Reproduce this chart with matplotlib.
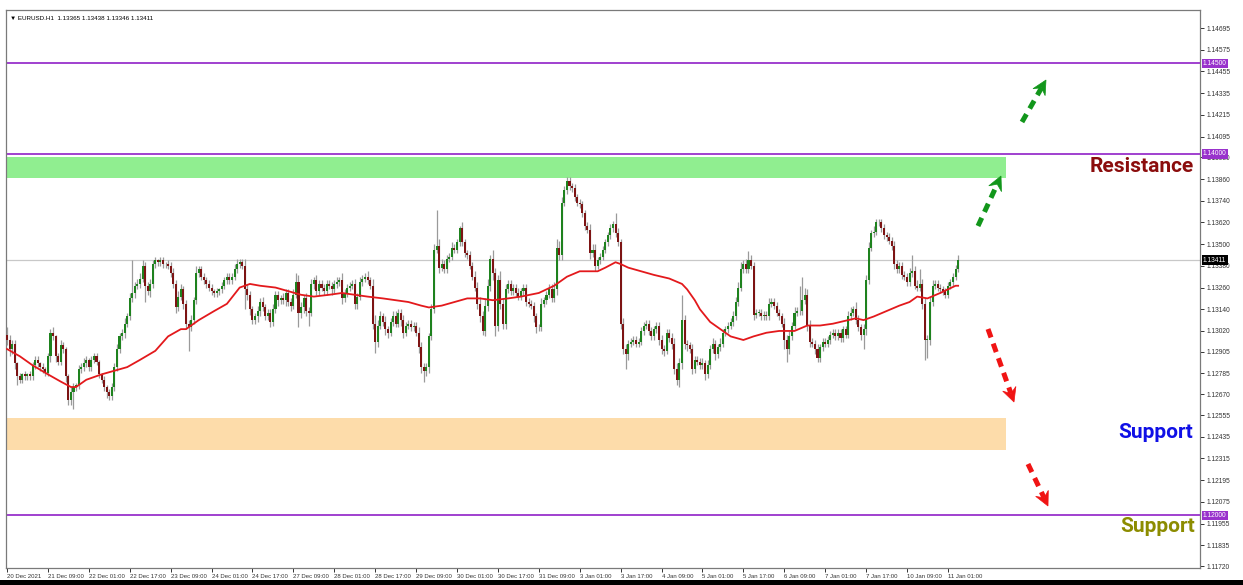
import matplotlib
matplotlib.use("Agg")
import matplotlib.pyplot as plt
import numpy as np
from matplotlib.patches import Polygon, Rectangle
from matplotlib.lines import Line2D
import matplotlib.transforms as mtransforms

# ---------------- data ----------------
header = "\u25BC EURUSD.H1  1.13365 1.13438 1.13346 1.13411"
first_open = 1.1300
closes = [
    1.1297, 1.1292, 1.1295, 1.1284, 1.1277, 1.1275, 1.1278, 1.1277, 1.1278, 1.1277,
    1.1283, 1.1286, 1.1284, 1.1282, 1.1281, 1.1279, 1.1288, 1.1301, 1.1299, 1.1288, 1.1285,
    1.1294, 1.1292, 1.1277, 1.1264, 1.1268, 1.1271, 1.1272, 1.1281, 1.1282, 1.1284,
    1.1286, 1.1282, 1.1286, 1.1288, 1.1285, 1.1278, 1.1275, 1.1271, 1.1268, 1.1266, 1.1271,
    1.1282, 1.1292, 1.1299, 1.1301, 1.1306, 1.1310, 1.1320, 1.1323, 1.1327, 1.1328,
    1.1331, 1.1338, 1.1327, 1.1324, 1.1328, 1.1339, 1.1341, 1.1340, 1.1341, 1.1339, 1.1339,
    1.1338, 1.1334, 1.1328, 1.1315, 1.1321, 1.1325, 1.1317, 1.1306, 1.1304, 1.1308,
    1.1319, 1.1334, 1.1336, 1.1332, 1.1330, 1.1328, 1.1326, 1.1324, 1.1323, 1.1324, 1.1325,
    1.1327, 1.1330, 1.1332, 1.1330, 1.1332, 1.1336, 1.1339, 1.1340, 1.1338, 1.1325,
    1.1322, 1.1314, 1.1308, 1.1310, 1.1313, 1.1318, 1.1315, 1.1310, 1.1312, 1.1307, 1.1314,
    1.1322, 1.1319, 1.1320, 1.1319, 1.1323, 1.1318, 1.1316, 1.1322, 1.1329, 1.1312,
    1.1315, 1.1320, 1.1313, 1.1312, 1.1328, 1.1330, 1.1324, 1.1328, 1.1326, 1.1324, 1.1328,
    1.1327, 1.1325, 1.1328, 1.1329, 1.1330, 1.1320, 1.1323, 1.1326, 1.1327, 1.1328,
    1.1317, 1.1321, 1.1329, 1.1331, 1.1332, 1.1330, 1.1327, 1.1306, 1.1296, 1.1305,
    1.1310, 1.1307, 1.1303, 1.1301, 1.1307, 1.1310, 1.1306, 1.1312, 1.1308, 1.1301, 1.1305,
    1.1306, 1.1304, 1.1305, 1.1301, 1.1293, 1.1282, 1.1280, 1.1282, 1.1299, 1.1314,
    1.1347, 1.1349, 1.1337, 1.1339, 1.1336, 1.1342, 1.1343, 1.1348, 1.1347, 1.1351, 1.1359,
    1.1351, 1.1345, 1.1344, 1.1338, 1.1332, 1.1326, 1.1317, 1.1310, 1.1302, 1.1316,
    1.1327, 1.1342, 1.1334, 1.1305, 1.1330, 1.1317, 1.1306, 1.1325, 1.1328, 1.1324,
    1.1326, 1.1323, 1.1321, 1.1324, 1.1326, 1.1318, 1.1317, 1.1316, 1.1310, 1.1304, 1.1304,
    1.1317, 1.1319, 1.1322, 1.1325, 1.1320, 1.1325, 1.1348, 1.1344, 1.1373, 1.1380, 1.1385,
    1.1382, 1.1381, 1.1376, 1.1373, 1.1372, 1.1367, 1.1360, 1.1358, 1.1345, 1.1347,
    1.1338, 1.1341, 1.1343, 1.1347, 1.1351, 1.1355, 1.1359, 1.1361, 1.1356, 1.1351, 1.1306,
    1.1292, 1.1289, 1.1295, 1.1296, 1.1297, 1.1295, 1.1296, 1.1302, 1.1305, 1.1306,
    1.1302, 1.1299, 1.1303, 1.1305, 1.1297, 1.1292, 1.1291, 1.1301, 1.1298, 1.1295, 1.1281,
    1.1275, 1.1284, 1.1308, 1.1295, 1.1294, 1.1292, 1.1281, 1.1286, 1.1285, 1.1283,
    1.1284, 1.1278, 1.1283, 1.1292, 1.1295, 1.1289, 1.1293, 1.1295, 1.1301, 1.1303, 1.1305,
    1.1307, 1.1310, 1.1318, 1.1326, 1.1336, 1.1339, 1.1336, 1.1341, 1.1338, 1.1311,
    1.1312, 1.1312, 1.1310, 1.1311, 1.1310, 1.1317, 1.1318, 1.1316, 1.1312, 1.1310, 1.1306,
    1.1297, 1.1292, 1.1299, 1.1305, 1.1312, 1.1313, 1.1313, 1.1319, 1.1322, 1.1305,
    1.1296, 1.1295, 1.1292, 1.1287, 1.1293, 1.1296, 1.1295, 1.1297, 1.1300, 1.1301,
    1.1299, 1.1301, 1.1298, 1.1303, 1.1300, 1.1310, 1.1312, 1.1314, 1.1308, 1.1304, 1.1300,
    1.1303, 1.1330, 1.1348, 1.1356, 1.1357, 1.1362, 1.1362, 1.1359, 1.1355, 1.1354,
    1.1352, 1.1349, 1.1339, 1.1336, 1.1338, 1.1333, 1.1332, 1.1329, 1.1334, 1.1335, 1.1327,
    1.1326, 1.1328, 1.1317, 1.1297, 1.1297, 1.1318, 1.1327, 1.1328, 1.1326, 1.1325,
    1.1324, 1.1322, 1.1327, 1.1329, 1.1332, 1.13365, 1.13411,
]
upper_wick_pips = [
    4, 3, 2, 2, 1, 2, 1, 2, 1, 2,
    2, 2, 2, 1, 2, 1, 2, 2, 3, 1, 2,
    3, 2, 1, 1, 3, 2, 1, 2, 2, 3,
    2, 1, 2, 2, 2, 1, 1, 2, 1, 2, 2,
    2, 3, 2, 2, 3, 2, 3, 18, 2, 3,
    3, 3, 2, 2, 3, 2, 2, 1, 2, 2, 1,
    2, 2, 3, 2, 3, 3, 2, 2, 2, 3,
    2, 4, 2, 2, 2, 2, 2, 2, 1, 2, 1,
    2, 2, 2, 2, 2, 3, 3, 2, 2, 4,
    3, 2, 2, 2, 3, 2, 3, 2, 2, 2, 3,
    2, 2, 2, 3, 2, 2, 2, 3, 5, 4,
    3, 2, 3, 2, 3, 2, 3, 2, 2, 2, 2,
    2, 2, 2, 3, 2, 4, 2, 2, 2, 2,
    3, 2, 3, 2, 2, 3, 2, 4, 5, 3,
    3, 2, 3, 2, 2, 3, 3, 2, 2, 3, 2,
    2, 2, 2, 2, 3, 3, 2, 2, 2, 3,
    3, 20, 4, 3, 2, 2, 2, 3, 2, 2, 1,
    3, 2, 2, 2, 2, 3, 3, 4, 3, 4,
    4, 2, 5, 3, 3, 5, 3, 3, 2, 2,
    2, 2, 3, 2, 2, 2, 2, 2, 2, 2, 2,
    3, 2, 2, 3, 3, 4, 5, 4, 3, 2, 2,
    2, 2, 2, 2, 2, 2, 2, 2, 3, 3,
    3, 2, 2, 2, 2, 2, 2, 2, 6, 3, 2,
    3, 3, 2, 2, 2, 2, 2, 2, 2, 2,
    2, 2, 2, 2, 2, 3, 2, 2, 2, 3, 3,
    3, 3, 14, 3, 2, 2, 3, 2, 2, 2,
    3, 2, 3, 2, 3, 2, 2, 3, 2, 2, 2,
    2, 3, 3, 3, 4, 2, 3, 5, 3, 2,
    2, 2, 2, 2, 2, 3, 2, 2, 2, 2, 2,
    3, 3, 3, 2, 3, 2, 14, 13, 4, 3,
    3, 2, 2, 3, 2, 2, 2, 2, 2, 2,
    2, 2, 2, 2, 2, 3, 3, 2, 4, 3, 2,
    3, 3, 3, 2, 3, 2, 2, 2, 2, 2,
    2, 2, 3, 2, 2, 2, 2, 2, 3, 9, 3,
    3, 8, 3, 3, 3, 3, 3, 2, 2, 2,
    2, 2, 2, 2, 2, 2, 3,
]
lower_wick_pips = [
    3, 4, 3, 3, 5, 2, 2, 2, 2, 2,
    2, 2, 2, 2, 2, 2, 2, 3, 2, 3, 2,
    2, 2, 3, 3, 3, 9, 2, 2, 2, 2,
    2, 2, 2, 2, 2, 2, 2, 2, 3, 2, 2,
    2, 2, 2, 2, 3, 2, 2, 2, 3, 2,
    2, 2, 9, 2, 3, 2, 2, 2, 2, 2, 2,
    2, 2, 2, 3, 2, 2, 3, 3, 13, 2,
    2, 2, 2, 2, 2, 2, 2, 2, 2, 2, 2,
    2, 2, 2, 2, 2, 2, 2, 2, 2, 11,
    3, 3, 2, 2, 3, 3, 2, 2, 2, 3, 2,
    2, 3, 2, 2, 3, 2, 3, 2, 2, 8,
    3, 3, 3, 7, 2, 3, 2, 2, 2, 2, 2,
    2, 3, 2, 2, 2, 3, 2, 2, 2, 2,
    3, 3, 2, 2, 2, 2, 2, 3, 6, 3,
    2, 2, 3, 3, 2, 2, 2, 2, 3, 3, 2,
    2, 2, 2, 2, 3, 3, 6, 3, 3, 2,
    2, 2, 3, 2, 2, 2, 2, 2, 2, 2, 2,
    2, 2, 2, 2, 2, 2, 3, 3, 2, 3,
    3, 3, 4, 6, 3, 3, 3, 3, 2, 2,
    2, 2, 2, 2, 2, 2, 2, 2, 3, 3, 2,
    2, 2, 2, 2, 2, 2, 3, 3, 3, 2, 2,
    2, 2, 2, 2, 2, 2, 2, 2, 3, 2,
    3, 2, 2, 2, 2, 2, 2, 2, 2, 2, 3,
    3, 8, 3, 2, 2, 2, 2, 2, 2, 2,
    2, 2, 2, 2, 3, 3, 3, 2, 2, 3, 3,
    3, 4, 3, 3, 3, 2, 3, 2, 2, 2,
    2, 3, 2, 2, 2, 3, 2, 2, 2, 2, 2,
    2, 2, 2, 2, 2, 2, 2, 2, 2, 3,
    2, 2, 2, 2, 2, 2, 2, 2, 2, 2, 2,
    5, 7, 3, 2, 2, 2, 2, 2, 2, 3,
    3, 2, 3, 2, 2, 2, 2, 2, 2, 2,
    2, 2, 2, 2, 2, 2, 2, 2, 2, 2, 3,
    8, 3, 2, 2, 2, 2, 2, 2, 2, 2,
    2, 2, 3, 2, 2, 2, 2, 2, 2, 2, 2,
    2, 2, 3, 11, 10, 3, 2, 2, 2, 2,
    2, 2, 2, 2, 2, 2, 2,
]
ma_bars = [0, 5, 10, 16, 21, 25, 27, 31, 37, 42, 47, 52, 58, 63, 68, 70, 75, 81, 86, 91,
           95, 99, 105, 110, 115, 120, 126, 131, 136, 141, 147, 152, 157, 162, 165, 170,
           175, 180, 185, 190, 196, 201, 208, 214, 219, 224, 231, 234, 238, 240, 243, 248,
           253, 259, 264, 266, 269, 271, 275, 279, 283, 288, 292, 297, 302, 308, 313, 318,
           323, 329, 332, 335, 339, 344, 349, 353, 356, 360, 365, 371, 372]
ma_values = [1.1292, 1.1288, 1.1283, 1.1278, 1.1274, 1.1271, 1.1271, 1.1275, 1.1278, 1.1280,
             1.1282, 1.1286, 1.1291, 1.1299, 1.1303, 1.1303, 1.1308, 1.1313, 1.1317, 1.1326,
             1.1328, 1.1327, 1.1326, 1.1324, 1.1322, 1.1321, 1.1322, 1.1323, 1.1322, 1.1321,
             1.1320, 1.1319, 1.1318, 1.1316, 1.1315, 1.1316, 1.1318, 1.1320, 1.1320, 1.1319,
             1.1320, 1.1321, 1.1323, 1.1327, 1.1332, 1.1335, 1.1335, 1.1337, 1.1340, 1.1339,
             1.1337, 1.1335, 1.1333, 1.1331, 1.1328, 1.1325, 1.1319, 1.1314, 1.1307, 1.1303,
             1.1299, 1.1297, 1.1299, 1.1301, 1.1302, 1.1302, 1.1305, 1.1305, 1.1306, 1.1308,
             1.1309, 1.1308, 1.1310, 1.1313, 1.1316, 1.1318, 1.1321, 1.1320, 1.1323, 1.1327,
             1.1327]
time_labels = ["20 Dec 2021", "21 Dec 09:00", "22 Dec 01:00", "22 Dec 17:00", "23 Dec 09:00",
               "24 Dec 01:00", "24 Dec 17:00", "27 Dec 09:00", "28 Dec 01:00", "28 Dec 17:00",
               "29 Dec 09:00", "30 Dec 01:00", "30 Dec 17:00", "31 Dec 09:00", "3 Jan 01:00",
               "3 Jan 17:00", "4 Jan 09:00", "5 Jan 01:00", "5 Jan 17:00", "6 Jan 09:00",
               "7 Jan 01:00", "7 Jan 17:00", "10 Jan 09:00", "11 Jan 01:00"]
bars_per_label = 16
price_ticks = [1.14695, 1.14575, 1.14455, 1.14335, 1.14215, 1.14095, 1.13980, 1.13860,
               1.13740, 1.13620, 1.13500, 1.13380, 1.13260, 1.13140, 1.13020, 1.12905,
               1.12785, 1.12670, 1.12555, 1.12435, 1.12315, 1.12195, 1.12075, 1.11955,
               1.11835, 1.11720]
level_lines = [1.14500, 1.14000, 1.12000]
current_price = 1.13411
resistance_zone = (1.13866, 1.13982)
support_zone = (1.12361, 1.12538)

# ---------------- figure ----------------
W, H = 1243, 585
fig = plt.figure(figsize=(W / 100, H / 100), dpi=100)
fig.patch.set_facecolor("white")

def fx(x):
    return x / W

def fy(y):
    return 1 - y / H

ax = fig.add_axes([fx(6), fy(568), (1200 - 6) / W, (568 - 10) / H])
ax.set_xlim(-0.4, 466.6)
ax.set_ylim(1.11709, 1.14795)

n = len(closes)
c = np.array(closes)
o = np.array([first_open] + closes[:-1])
x = np.arange(n)
hi = np.maximum(o, c) + np.array(upper_wick_pips) * 1e-4
lo = np.minimum(o, c) - np.array(lower_wick_pips) * 1e-4

# zones
zone_frac = (1006 - 6) / (1200 - 6)
ax.axhspan(resistance_zone[0], resistance_zone[1], xmin=0, xmax=zone_frac,
           color="#90ee90", lw=0, zorder=1)
ax.axhspan(support_zone[0], support_zone[1], xmin=0, xmax=zone_frac,
           color="#fddcaa", lw=0, zorder=1)

# level lines
for lv in level_lines:
    ax.axhline(lv, color="#9932cc", lw=1.3, zorder=2)
ax.axhline(current_price, color="#c8c8c8", lw=0.9, zorder=2)

# candles
ax.vlines(x, lo, hi, color="#9a9a9a", lw=0.9, zorder=3)
bull = c >= o
colors = np.where(bull, "#1e821e", "#7d1414")
ax.bar(x, np.maximum(np.abs(c - o), 0.00003), bottom=np.minimum(o, c), width=0.8,
       color=colors, lw=0, zorder=4)

# moving average
ax.plot(ma_bars, ma_values, color="#e3191c", lw=1.3, zorder=5)

# axes styling
tick_font = ["Liberation Sans", "DejaVu Sans"]
for s in ax.spines.values():
    s.set_color("#7a7a7a")
    s.set_linewidth(0.9)
ax.yaxis.tick_right()
ax.set_yticks(price_ticks)
ax.set_yticklabels([f"{v:.5f}" for v in price_ticks], family=tick_font)
ax.tick_params(axis="y", length=3, width=0.7, pad=1.5, labelsize=4.8, colors="#333333")
xt = [i * bars_per_label for i in range(len(time_labels))]
ax.set_xticks(xt)
ax.set_xticklabels(time_labels, ha="left", family=tick_font)
ax.tick_params(axis="x", length=3, width=0.7, pad=1.5, labelsize=4.3, colors="#333333")

# highlighted price labels on the right axis
trans = mtransforms.blended_transform_factory(ax.transAxes, ax.transData)
for lv in level_lines:
    ax.text(1.0025, lv, f"{lv:.5f}", transform=trans, fontsize=4.8, color="white",
            va="center", ha="left", zorder=10, clip_on=False, family=tick_font,
            bbox=dict(boxstyle="square,pad=0.2", fc="#9932cc", ec="none"))
ax.text(1.0025, current_price, f"{current_price:.5f}", transform=trans, fontsize=4.8,
        color="white", va="center", ha="left", zorder=10, clip_on=False, family=tick_font,
        bbox=dict(boxstyle="square,pad=0.2", fc="black", ec="none"))

# header
ax.text(0.003, 0.99, header, transform=ax.transAxes, fontsize=4.5, va="top", ha="left",
        color="black", family=tick_font)

# annotations
fig.text(fx(1142), fy(167), "Resistance", fontsize=15, fontweight="bold",
         family="Roboto", color="#8b0d0d", ha="center", va="center")
fig.text(fx(1156), fy(433), "Support", fontsize=15, fontweight="bold",
         family="Roboto", color="#1010e6", ha="center", va="center")
fig.text(fx(1158), fy(527), "Support", fontsize=15, fontweight="bold",
         family="Roboto", color="#8c8c00", ha="center", va="center")

def dashed_arrow(x0, y0, x1, y1, color):
    d = np.array([x1 - x0, y1 - y0], float)
    L = np.hypot(*d)
    u = d / L
    nrm = np.array([-u[1], u[0]])
    hl, hw, notch = 14.0, 7.0, 5.0
    base = np.array([x1, y1]) - u * (hl - notch)
    ln = Line2D([fx(x0), fx(base[0])], [fy(y0), fy(base[1])], transform=fig.transFigure,
                color=color, lw=3.6, dashes=(1.8, 1.3), solid_capstyle="butt",
                dash_capstyle="butt")
    fig.add_artist(ln)
    tip = np.array([x1, y1])
    pts = [tip, tip - u * hl + nrm * hw, tip - u * (hl - notch), tip - u * hl - nrm * hw]
    poly = Polygon([(fx(p[0]), fy(p[1])) for p in pts], closed=True,
                   transform=fig.transFigure, fc=color, ec=color, lw=0.5)
    fig.add_artist(poly)

dashed_arrow(978, 226, 1001, 176, "#12961b")
dashed_arrow(1022, 122, 1046, 80, "#12961b")
dashed_arrow(988, 329, 1014, 402, "#f01414")
dashed_arrow(1028, 464, 1048, 506, "#f01414")

# black band at the bottom
fig.add_artist(Rectangle((0, 0), 1, fy(580), transform=fig.transFigure, fc="black",
                         ec="none"))

fig.savefig("out.png", dpi=100)
